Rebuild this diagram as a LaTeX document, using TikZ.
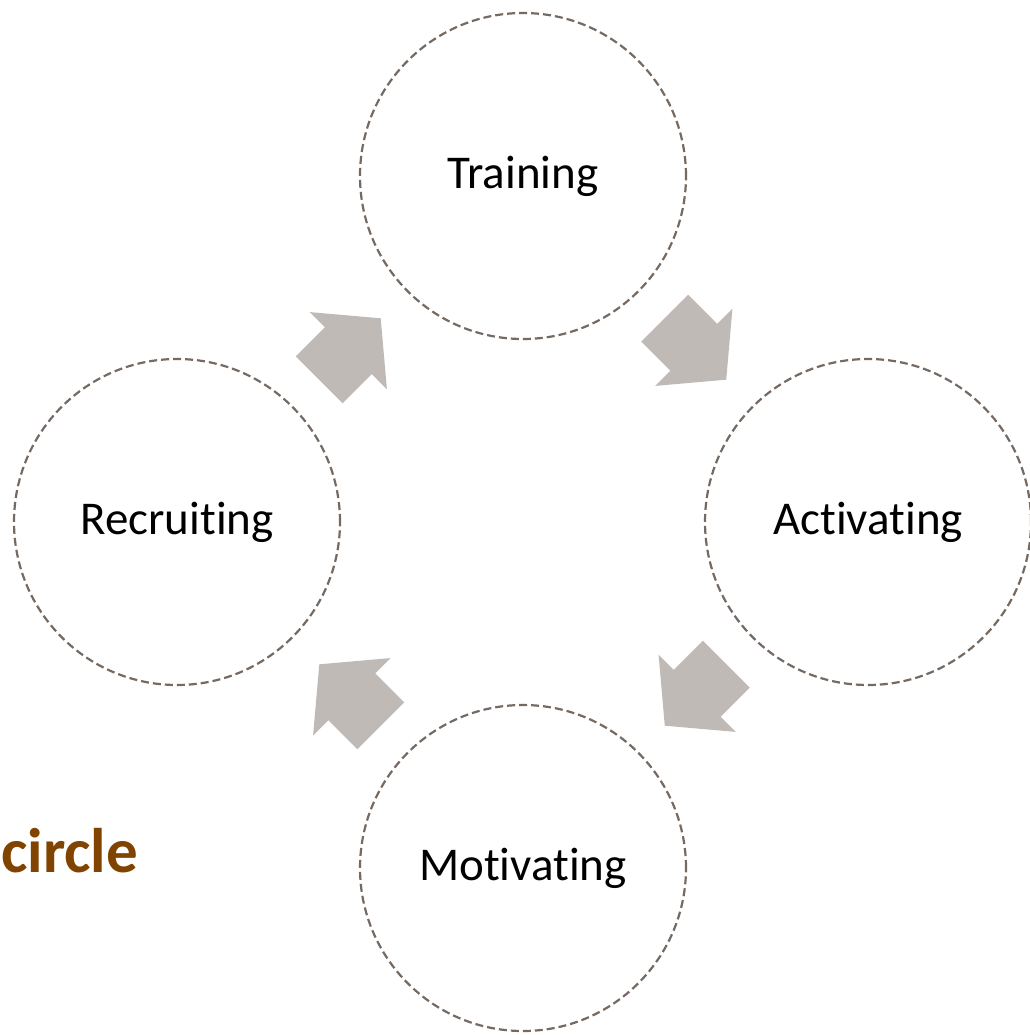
\documentclass[tikz,border=0pt]{standalone}
\usepackage{fontspec}
\setmainfont{Carlito}[Ligatures=NoCommon]
\usepackage{xcolor}
\usepackage{tikz}
\usetikzlibrary{shapes.arrows, calc}

\definecolor{ringgray}{HTML}{756A62}
\definecolor{arrowgray}{HTML}{C0BAB7}
\definecolor{titlebrown}{RGB}{128,68,0}

\tikzset{
    stage/.style={circle, draw=ringgray, line width=2.2pt, dash pattern=on 8pt off 4pt,
        minimum size=326pt, inner sep=0pt, font=\fontsize{47}{52}\selectfont},
    flow/.style={single arrow, fill=arrowgray, draw=none, inner xsep=0pt, inner ysep=33pt,
        minimum height=87pt, minimum width=0pt, single arrow head extend=21.5pt,
        single arrow tip angle=100}
}

\begin{document}
\begin{tikzpicture}[x=1pt, y=-1pt]
    \useasboundingbox (0,0) rectangle (1029,1035);

    % Stages
    \node[stage] (training) at (523,176) {Training};
    \node[stage] (activating) at (868,522) {Activating};
    \node[stage] (motivating) at (523,868) {Motivating};
    \node[stage] (recruiting) at (177,522) {Recruiting};

    % Arrows between stages
    \node[flow, rotate=45] (rt) at ($($(recruiting)!0.5!(training)$)!14pt!(recruiting)$) {};
    \node[flow, rotate=-45] (ta) at ($($(training)!0.5!(activating)$)!14pt!(training)$) {};
    \node[flow, rotate=-135] (am) at ($($(activating)!0.5!(motivating)$)!14pt!(activating)$) {};
    \node[flow, rotate=135] (mr) at ($($(motivating)!0.5!(recruiting)$)!14pt!(motivating)$) {};

    % Title
    \node[anchor=base west, inner sep=0pt, text=titlebrown, font=\fontsize{63}{70}\selectfont\bfseries] (title) at (1,872) {circle};
\end{tikzpicture}
\end{document}
